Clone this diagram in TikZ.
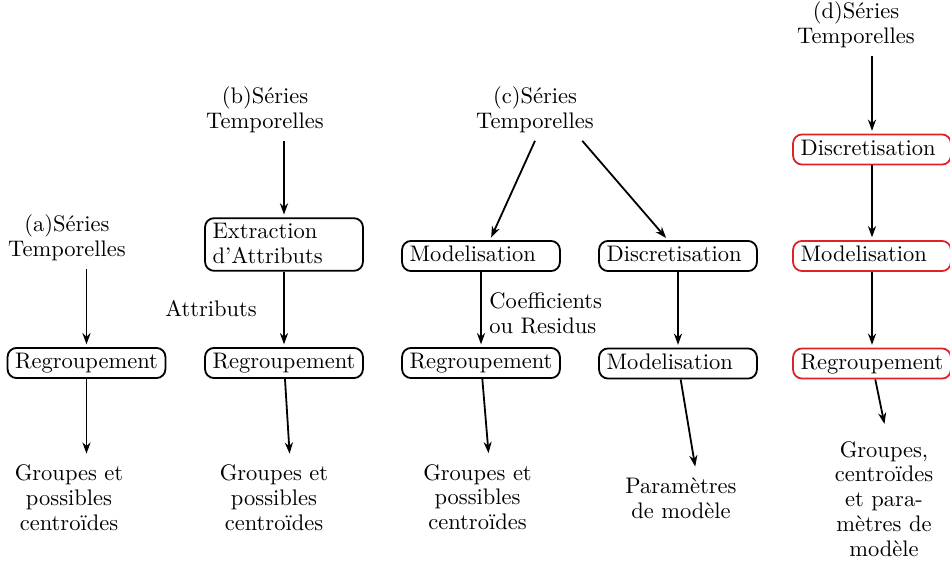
\documentclass[tikz,border=0pt]{standalone}
\usepackage{tikz}
\usetikzlibrary{positioning,arrows.meta}
\definecolor{boxred}{RGB}{222,34,38}
\newcommand{\figfont}{\fontsize{10pt}{11pt}\selectfont}

\begin{document}
\begin{tikzpicture}[x=0.4444pt, y=-0.4444pt, >={Stealth[length=5pt,width=3.6pt,inset=1.6pt]}, thick,
    box/.style={rectangle, draw, rounded corners=4pt, text width=63.5pt, align=left,
        inner xsep=3.33pt, inner ysep=2.2pt, text height=7pt, text depth=2pt, font=\figfont},
    redbox/.style={box, draw=boxred},
    txt/.style={align=center, font=\figfont},
    flow/.style={->, shorten >=1.2pt}]
    \useasboundingbox (0,0) rectangle (950,566);

    % (a)
    \node[txt] (ta) at (67,238) {(a)Séries\\Temporelles};
    \node[box] (ra) at (86.5,363) {Regroupement};
    \node[txt] (oa) at (69,497.6) {Groupes et\\possibles\\centroïdes};

    % (b)
    \node[txt] (tb) at (265,109.4) {(b)Séries\\Temporelles};
    \node[box, text depth=12pt] (eb) at (284,244.5) {Extraction\\d'Attributs};
    \node[txt] (attr) at (211,309) {Attributs};
    \node[box] (rb) at (284,363) {Regroupement};
    \node[txt] (ob) at (274,497.6) {Groupes et\\possibles\\centroïdes};

    % (c)
    \node[txt] (tc) at (535,109.4) {(c)Séries\\Temporelles};
    \node[box] (mc) at (481,256) {Modelisation};
    \node[box] (dc) at (678,256) {Discretisation};
    \node[box] (rc) at (481,363) {Regroupement};
    \node[box] (mc2) at (678,363.5) {Modelisation};
    \node[txt] (oc) at (477.5,497) {Groupes et\\possibles\\centroïdes};
    \node[txt] (pc) at (681,498) {Paramètres\\de modèle};

    % (d)
    \node[txt] (td) at (856,24.4) {(d)Séries\\Temporelles};
    \node[redbox] (dd) at (872,149.5) {Discretisation};
    \node[redbox] (md) at (872,256) {Modelisation};
    \node[redbox] (rd) at (872,363.5) {Regroupement};
    \node[txt] (od) at (884,498.7) {Groupes,\\centroïdes\\et para-\\mètres de\\modèle};

    \draw[flow] (ta.south -| ra) -- (ra);
    \draw[flow] (ra) -- (oa.north -| ra);

    \draw[flow] (tb.south -| eb) -- (eb);
    \draw[flow] (eb) -- (rb);
    \draw[flow] (rb) -- ([xshift=7pt]ob.north);

    \draw[flow] (tc.south) -- ([xshift=4pt]mc.north);
    \draw[flow] ([xshift=21pt]tc.south) -- ([xshift=-4.5pt]dc.north);
    \draw[flow] (mc) -- node[right, txt, align=left, pos=0.55] (coef) {Coefficients\\ou Residus} (rc);
    \draw[flow] (rc) -- ([xshift=5pt]oc.north);
    \draw[flow] (dc) -- (mc2);
    \draw[flow] (mc2) -- ([xshift=6.5pt]pc.north);

    \draw[flow] (td.south -| dd) -- (dd);
    \draw[flow] (dd) -- (md);
    \draw[flow] (md) -- (rd);
    \draw[flow, shorten >=4pt] (rd) -- ([xshift=1pt]od.north);
\end{tikzpicture}
\end{document}
